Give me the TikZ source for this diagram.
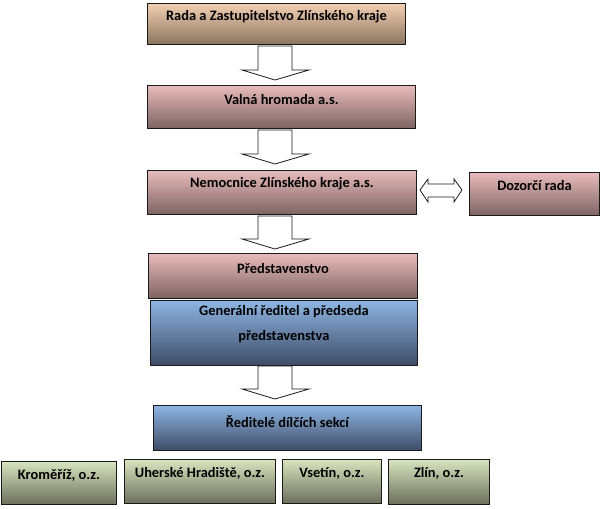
\documentclass[tikz,border=0pt]{standalone}
\usepackage{fontspec}
\setmainfont{Carlito}
\definecolor{peachT}{HTML}{F3CFB2}
\definecolor{peachB}{HTML}{8A7460}
\definecolor{pinkT}{HTML}{E8BBBB}
\definecolor{pinkB}{HTML}{7E6363}
\definecolor{blueT}{HTML}{8EB5E3}
\definecolor{blueB}{HTML}{3D4C66}
\definecolor{greenT}{HTML}{D8E4BE}
\definecolor{greenB}{HTML}{6C6F5D}
\definecolor{edge}{HTML}{1A1A1A}
\tikzset{
  box/.style={draw=edge, line width=0.9pt, inner sep=0pt, anchor=north west},
  peachbox/.style={box, top color=peachT, bottom color=peachB},
  pinkbox/.style={box, top color=pinkT, bottom color=pinkB},
  bluebox/.style={box, top color=blueT, bottom color=blueB},
  greenbox/.style={box, top color=greenT, bottom color=greenB},
  lbl/.style={font=\bfseries\fontsize{14.4}{25}\selectfont, text=black, align=center, inner sep=0pt},
  blockarrow/.style={draw=edge, line width=0.8pt, fill=white, line join=miter},
}
\begin{document}
\begin{tikzpicture}[x=1pt,y=-1pt]
\useasboundingbox (0,0) rectangle (601,508);
% boxes
\node[peachbox, minimum width=258pt, minimum height=41pt] (b1) at (147,3) {};
\node[pinkbox, minimum width=268pt, minimum height=43pt] (b2) at (147,85) {};
\node[pinkbox, minimum width=269pt, minimum height=44pt] (b3) at (147,170) {};
\node[pinkbox, minimum width=130pt, minimum height=43pt] (b3r) at (469,172) {};
\node[pinkbox, minimum width=269pt, minimum height=45pt] (b4) at (148,253) {};
\node[bluebox, minimum width=267pt, minimum height=65pt] (b5) at (150,300) {};
\node[bluebox, minimum width=268pt, minimum height=45pt] (b6) at (153,405) {};
\node[greenbox, minimum width=115pt, minimum height=43pt] (g1) at (1,461) {};
\node[greenbox, minimum width=151pt, minimum height=44pt] (g2) at (124,459) {};
\node[greenbox, minimum width=99pt, minimum height=44pt] (g3) at (282,459) {};
\node[greenbox, minimum width=101pt, minimum height=45pt] (g4) at (388,459) {};
% labels
\node[lbl] (t1) at ([yshift=-13.5pt]b1.north) {Rada a Zastupitelstvo Zlínského kraje};
\node[lbl] (t2) at ([yshift=-15pt]b2.north) {Valná hromada a.s.};
\node[lbl] (t3) at ([yshift=-14pt]b3.north) {Nemocnice Zlínského kraje a.s.};
\node[lbl] (t3r) at ([yshift=-13pt]b3r.north) {Dozorčí rada};
\node[lbl] (t4) at ([yshift=-15pt]b4.north) {Představenstvo};
\node[lbl] (t5) at ([yshift=-24pt]b5.north) {Generální ředitel a předseda\\představenstva};
\node[lbl] (t6) at ([yshift=-17pt]b6.north) {Ředitelé dílčích sekcí};
\node[lbl] (tg1) at ([yshift=-14pt]g1.north) {Kroměříž, o.z.};
\node[lbl] (tg2) at ([yshift=-14pt]g2.north) {Uherské Hradiště, o.z.};
\node[lbl] (tg3) at ([yshift=-14pt]g3.north) {Vsetín, o.z.};
\node[lbl] (tg4) at ([yshift=-14pt]g4.north) {Zlín, o.z.};
% block arrows down
\foreach \top/\hs/\tip in {46/70/80, 130/154/164, 216/239/249, 366/389/399}{
  \draw[blockarrow] (258,\top) -- (292,\top) -- (292,\hs) -- (309,\hs) -- (275,\tip) -- (242,\hs) -- (258,\hs) -- cycle;
}
% double arrow
\draw[blockarrow] (420,190) -- (428,179) -- (428,184) -- (454,184) -- (454,179) -- (462,190) -- (454,202) -- (454,197) -- (428,197) -- (428,202) -- cycle;
\end{tikzpicture}
\end{document}
